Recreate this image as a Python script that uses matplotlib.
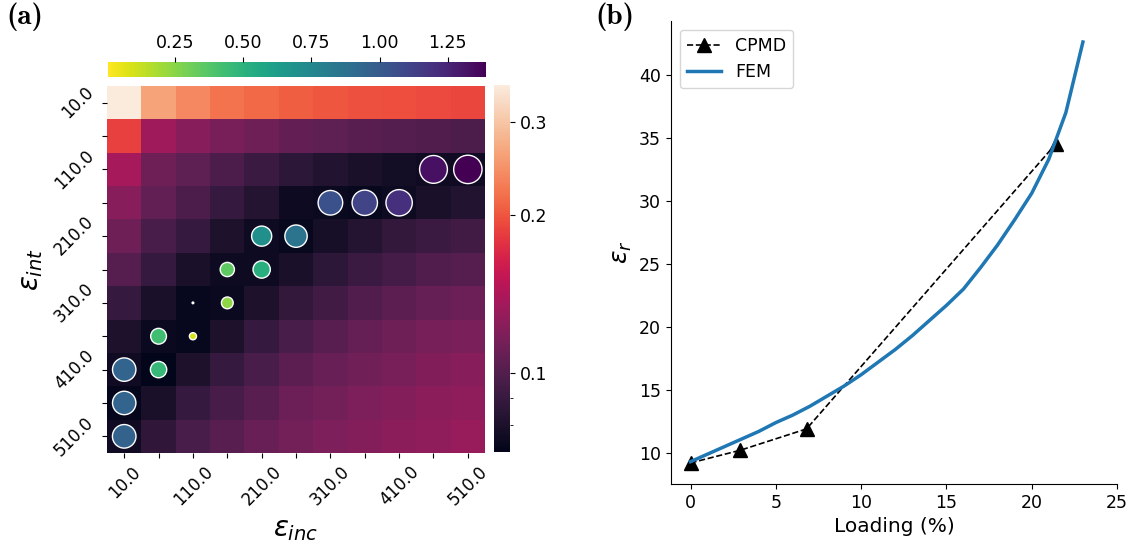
import numpy as np
import matplotlib
matplotlib.use('Agg')
import matplotlib.pyplot as plt
import seaborn as sns
from matplotlib.colors import LogNorm
from matplotlib.ticker import FixedLocator, NullFormatter

# permittivity grid (rows: eps_int, cols: eps_inc)
eps_int = [10, 60, 110, 160, 210, 260, 310, 360, 410, 460, 510]
eps_inc = [10, 60, 110, 160, 210, 260, 310, 360, 410, 460, 510]

err = np.array([
    [0.352, 0.262, 0.237, 0.220, 0.213, 0.205, 0.200, 0.196, 0.195, 0.192, 0.190],
    [0.185, 0.133, 0.123, 0.116, 0.111, 0.107, 0.105, 0.103, 0.101, 0.099, 0.098],
    [0.137, 0.111, 0.105, 0.098, 0.091, 0.086, 0.082, 0.079, 0.077, 0.076, 0.076],
    [0.123, 0.106, 0.098, 0.089, 0.083, 0.075, 0.074, 0.073, 0.075, 0.079, 0.082],
    [0.111, 0.097, 0.089, 0.080, 0.075, 0.073, 0.078, 0.083, 0.088, 0.091, 0.094],
    [0.102, 0.089, 0.079, 0.075, 0.075, 0.079, 0.086, 0.091, 0.095, 0.099, 0.102],
    [0.089, 0.079, 0.073, 0.074, 0.080, 0.088, 0.094, 0.099, 0.104, 0.108, 0.110],
    [0.080, 0.074, 0.073, 0.080, 0.089, 0.097, 0.103, 0.108, 0.111, 0.115, 0.117],
    [0.076, 0.071, 0.080, 0.089, 0.097, 0.104, 0.109, 0.113, 0.116, 0.120, 0.123],
    [0.072, 0.079, 0.089, 0.096, 0.103, 0.110, 0.114, 0.118, 0.121, 0.124, 0.127],
    [0.076, 0.087, 0.097, 0.103, 0.109, 0.114, 0.118, 0.121, 0.124, 0.127, 0.131],
])

# best-fit markers on top of the heatmap
dot_int = [110, 110, 160, 160, 160, 210, 210, 260, 260, 310, 310, 360, 360, 410, 410, 460, 510]
dot_inc = [460, 510, 310, 360, 410, 210, 260, 160, 210, 110, 160, 60, 110, 10, 60, 10, 10]
dot_val = [1.335, 1.39, 1.044, 1.113, 1.196, 0.698, 0.864, 0.351, 0.517, 0.005, 0.240,
           0.43, 0.088, 0.947, 0.46, 0.947, 0.96]

# panel b
cpmd_load = [0, 2.9, 6.8, 21.4]
cpmd_eps = [9.2, 10.2, 11.9, 34.5]
fem_load = [0, 1, 2, 3, 4, 5, 6, 7, 8, 9, 10, 11, 12, 13, 14, 15, 16, 17, 18, 19, 20, 21, 22, 23]
fem_eps = [9.3, 9.9, 10.5, 11.1, 11.7, 12.4, 13.0, 13.7, 14.5, 15.3, 16.2, 17.2, 18.2,
           19.3, 20.5, 21.7, 23.0, 24.7, 26.5, 28.5, 30.6, 33.3, 37.0, 42.6]

fig = plt.figure(figsize=(11.41, 5.46), dpi=100)
ax = fig.add_axes([0.0938, 0.1703, 0.3313, 0.6722])
cax = fig.add_axes([0.433, 0.1722, 0.014, 0.672])
cax2 = fig.add_axes([0.0947, 0.859, 0.3313, 0.0275])
ax2 = fig.add_axes([0.588, 0.1136, 0.391, 0.848])

labels = ['%.1f' % v if i % 2 == 0 else '' for i, v in enumerate(eps_inc)]
sns.heatmap(err, ax=ax, cmap='rocket', norm=LogNorm(), cbar_ax=cax,
            xticklabels=labels, yticklabels=labels)
cb = ax.collections[0].colorbar
cb.outline.set_visible(False)
cb.ax.yaxis.set_major_locator(FixedLocator([0.1, 0.2, 0.3]))
cb.ax.yaxis.set_ticklabels(['0.1', '0.2', '0.3'])
cb.ax.yaxis.set_minor_locator(FixedLocator([0.08, 0.09]))
cb.ax.yaxis.set_minor_formatter(NullFormatter())
cb.ax.tick_params(labelsize=12.5)

xs = [eps_inc.index(v) + 0.5 for v in dot_inc]
ys = [eps_int.index(v) + 0.5 for v in dot_int]
vmin, vmax = min(dot_val), max(dot_val)
sc = ax.scatter(xs, ys, s=[300 * v for v in dot_val], c=dot_val, cmap='viridis_r',
                vmin=vmin, vmax=vmax, edgecolors='white', linewidths=1, zorder=3)
cb2 = fig.colorbar(sc, cax=cax2, orientation='horizontal')
cb2.outline.set_visible(False)
cax2.xaxis.set_ticks_position('top')
cb2.set_ticks([0.25, 0.5, 0.75, 1.0, 1.25])
cax2.tick_params(labelsize=12.5)

plt.setp(ax.get_xticklabels(), rotation=45)
plt.setp(ax.get_yticklabels(), rotation=45)
ax.tick_params(labelsize=12)
ax.set_xlabel(r'$\varepsilon_{inc}$', fontsize=20)
ax.set_ylabel(r'$\varepsilon_{int}$', fontsize=20)

ax2.plot(cpmd_load, cpmd_eps, 'k--^', markersize=10, linewidth=1.2, label='CPMD')
ax2.plot(fem_load, fem_eps, color='#1f77b4', linewidth=2.5, label='FEM')
ax2.set_xlim(-1.15, 25)
ax2.set_xticks([0, 5, 10, 15, 20, 25])
ax2.spines['top'].set_visible(False)
ax2.spines['right'].set_visible(False)
ax2.tick_params(labelsize=12.5)
ax2.set_xlabel('Loading (%)', fontsize=14.5)
ax2.set_ylabel(r'$\varepsilon_r$', fontsize=18)
ax2.legend(loc='upper left', fontsize=12.5)

fig.text(0.006, 0.995, '(a)', fontsize=21, va='top', family='cmb10')
fig.text(0.522, 0.995, '(b)', fontsize=21, va='top', family='cmb10')

fig.savefig('out.png', dpi=100)
